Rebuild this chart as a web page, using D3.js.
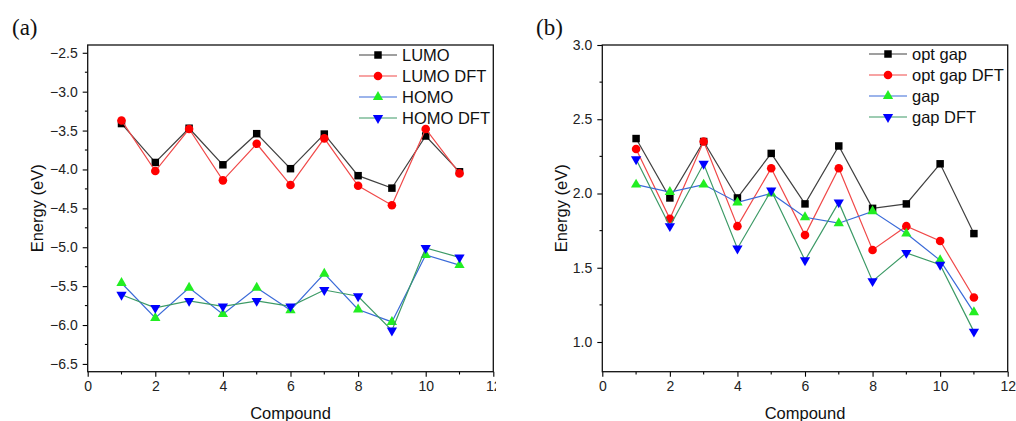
<!DOCTYPE html>
<html><head><meta charset="utf-8">
<script src="https://cdn.jsdelivr.net/npm/d3@7"></script>
<style>
html,body{margin:0;padding:0;background:#fff;}
svg{display:block;}
</style></head>
<body>
<svg id="chart" width="1016" height="421"></svg>
<script>
const compounds = [1,2,3,4,5,6,7,8,9,10,11];

const lumo     = [-3.41,-3.91,-3.47,-3.94,-3.54,-3.99,-3.545,-4.08,-4.24,-3.57,-4.03];
const lumoDFT  = [-3.37,-4.02,-3.48,-4.14,-3.67,-4.20,-3.60,-4.21,-4.46,-3.48,-4.05];
const homo     = [-5.46,-5.91,-5.52,-5.86,-5.52,-5.81,-5.34,-5.80,-5.96,-5.10,-5.23];
const homoDFT  = [-5.61,-5.78,-5.69,-5.76,-5.69,-5.76,-5.55,-5.63,-6.07,-5.01,-5.13];

const optGap    = [2.37,1.97,2.35,1.97,2.27,1.93,2.32,1.90,1.93,2.20,1.73];
const optGapDFT = [2.30,1.83,2.35,1.78,2.17,1.72,2.17,1.62,1.78,1.68,1.30];
const gap       = [2.06,2.01,2.06,1.94,2.00,1.84,1.80,1.88,1.73,1.55,1.20];
const gapDFT    = [2.23,1.78,2.20,1.63,2.02,1.55,1.94,1.41,1.60,1.52,1.07];

const xTicks = [0,2,4,6,8,10,12];
const yTicksA = [-2.5,-3.0,-3.5,-4.0,-4.5,-5.0,-5.5,-6.0,-6.5];
const yTicksB = [1.0,1.5,2.0,2.5,3.0];

const namesA = ["LUMO","LUMO DFT","HOMO","HOMO DFT"];
const namesB = ["opt gap","opt gap DFT","gap","gap DFT"];

const lineColors = ["#404040","#f04848","#3a6ad8","#3c9a66"];
const markerColors = ["#000000","#ff0000","#22ee22","#0000ff"];
const symbols = ["square","circle","up","down"];

const svg = d3.select("#chart");
const FONT = "Arial, 'Liberation Sans', sans-serif";

function symbolPath(kind){
  if(kind==="square") return d3.symbol(d3.symbolSquare, 56)();
  if(kind==="circle") return d3.symbol(d3.symbolCircle, 58)();
  return d3.symbol(d3.symbolTriangle, 46)();
}
function symbolTransform(kind,x,y){
  return `translate(${x},${y})` + (kind==="down" ? " rotate(180)" : "");
}

function panel(opts){
  const {left,right,top,bottom,yDomain,yTicks,yMinor,series,names,legendX,legendY,letter,letterX,ylabelX,clipRight} = opts;
  const clipId = "clip"+letter;
  svg.append("clipPath").attr("id",clipId).append("rect")
    .attr("x",0).attr("y",0).attr("width",clipRight).attr("height",421);
  const g = svg.append("g").attr("clip-path",`url(#${clipId})`);
  const x = d3.scaleLinear().domain([0,12]).range([left,right]);
  const y = d3.scaleLinear().domain(yDomain).range([bottom,top]);

  // minor ticks
  const xMinor = d3.range(1,12,2);
  g.append("g").selectAll("line").data(xMinor).join("line")
    .attr("x1",d=>x(d)).attr("x2",d=>x(d)).attr("y1",bottom).attr("y2",bottom+2.8)
    .attr("stroke","#000").attr("stroke-width",1.1);
  g.append("g").selectAll("line").data(yMinor).join("line")
    .attr("y1",d=>y(d)).attr("y2",d=>y(d)).attr("x1",left).attr("x2",left-2.8)
    .attr("stroke","#000").attr("stroke-width",1.1);

  // axes
  const xAxis = d3.axisBottom(x).tickValues(xTicks).tickFormat(d3.format("d")).tickSize(5).tickPadding(4);
  const gx = g.append("g").attr("transform",`translate(0,${bottom})`).call(xAxis);
  const yAxis = d3.axisLeft(y).tickValues(yTicks).tickFormat(d=>d3.format(".1f")(d).replace("-","\u2212")).tickSize(5).tickPadding(5);
  const gy = g.append("g").attr("transform",`translate(${left},0)`).call(yAxis);
  [gx,gy].forEach(a=>{
    a.select(".domain").remove();
    a.selectAll(".tick line").attr("stroke","#000").attr("stroke-width",1.1);
    a.selectAll("text").attr("font-family",FONT).attr("font-size",14).attr("fill","#222");
  });

  // frame
  g.append("rect").attr("x",left).attr("y",top).attr("width",right-left).attr("height",bottom-top)
    .attr("fill","none").attr("stroke","#111").attr("stroke-width",1.3);

  // series
  const line = d3.line().x((d,i)=>x(compounds[i])).y(d=>y(d));
  series.forEach((s,k)=>{
    g.append("path").datum(s).attr("d",line).attr("fill","none")
      .attr("stroke",lineColors[k]).attr("stroke-width",1.2);
    g.append("g").selectAll("path").data(s).join("path")
      .attr("d",symbolPath(symbols[k]))
      .attr("transform",(d,i)=>symbolTransform(symbols[k],x(compounds[i]),y(d)))
      .attr("fill",markerColors[k]);
  });

  // legend
  names.forEach((n,k)=>{
    const ly = legendY + k*21;
    g.append("line").attr("x1",legendX).attr("x2",legendX+38).attr("y1",ly).attr("y2",ly)
      .attr("stroke",lineColors[k]).attr("stroke-width",1.2);
    g.append("path").attr("d",symbolPath(symbols[k]))
      .attr("transform",symbolTransform(symbols[k],legendX+19,ly)).attr("fill",markerColors[k]);
    g.append("text").attr("x",legendX+43).attr("y",ly).attr("dy","0.36em")
      .attr("font-family",FONT).attr("font-size",16.5).attr("fill","#111").text(n);
  });

  // axis titles
  g.append("text").attr("x",(left+right)/2).attr("y",419).attr("text-anchor","middle")
    .attr("font-family",FONT).attr("font-size",16.5).attr("fill","#111").text("Compound");
  g.append("text").attr("transform",`translate(${ylabelX},${(top+bottom)/2}) rotate(-90)`)
    .attr("text-anchor","middle").attr("dy","0.36em")
    .attr("font-family",FONT).attr("font-size",16.5).attr("fill","#111").text("Energy (eV)");

  // panel letter
  g.append("text").attr("x",letterX).attr("y",35)
    .attr("font-family","'Liberation Serif', 'DejaVu Serif', serif").attr("font-size",23).attr("fill","#111")
    .text(`(${letter})`);
}

panel({
  left:87.7,right:493.3,top:45,bottom:371.7,
  yDomain:[-6.6,-2.4], yTicks:yTicksA,
  yMinor:d3.range(-6.25,-2.4,0.5),
  series:[lumo,lumoDFT,homo,homoDFT], names:namesA,
  legendX:359, legendY:55, letter:"a", letterX:12, ylabelX:37, clipRight:496
});
panel({
  left:602.3,right:1007.7,top:45,bottom:371.7,
  yDomain:[0.8,3.0], yTicks:yTicksB,
  yMinor:[1.25,1.75,2.25,2.75],
  series:[optGap,optGapDFT,gap,gapDFT], names:namesB,
  legendX:869, legendY:54, letter:"b", letterX:536, ylabelX:561, clipRight:1016
});
</script>
</body></html>
